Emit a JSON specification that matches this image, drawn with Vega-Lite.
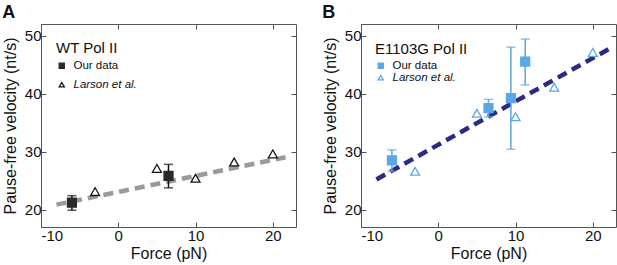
{
  "$schema": "https://vega.github.io/schema/vega-lite/v6.json",
  "padding": {"left": 1, "top": 3, "right": 2, "bottom": 2},
  "background": "white",
  "config": {
    "font": "Liberation Sans",
    "view": {"stroke": "#555", "strokeWidth": 1},
    "axis": {"grid": false, "domain": false, "tickSize": -5, "tickColor": "#555", "labelFontSize": 15, "labelColor": "#111", "titleFontSize": 16, "titleFontWeight": "normal", "titleColor": "#111", "labelPadding": 4},
    "title": {"fontSize": 18, "fontWeight": "bold", "anchor": "start", "baseline": "alphabetic", "offset": 2, "color": "#111"},
    "concat": {"spacing": 20},
    "legend": {"titleFontSize": 15, "titleFontWeight": "normal", "titleColor": "#111", "labelFontSize": 11.5, "labelColor": "#111", "padding": 0}
  },
  "datasets": {
    "a_fit": [{"force": -8, "v": 20.85}, {"force": 22.3, "v": 29.2}],
    "a_pts": [
      {"force": -6, "v": 21.2, "lo": 19.9, "hi": 22.4, "source": "Our data"},
      {"force": 6.5, "v": 25.8, "lo": 23.75, "hi": 27.8, "source": "Our data"},
      {"force": -3, "v": 23.1, "source": "Larson et al."},
      {"force": 5, "v": 27.1, "source": "Larson et al."},
      {"force": 10, "v": 25.4, "source": "Larson et al."},
      {"force": 15, "v": 28.2, "source": "Larson et al."},
      {"force": 20, "v": 29.6, "source": "Larson et al."}
    ],
    "b_fit": [{"force": -8, "v": 25.2}, {"force": 22.5, "v": 48.0}],
    "b_pts": [
      {"force": -6, "v": 28.5, "lo": 26.6, "hi": 30.3, "source": "Our data"},
      {"force": 6.5, "v": 37.5, "lo": 36.0, "hi": 39.0, "source": "Our data"},
      {"force": 9.4, "v": 39.2, "lo": 30.4, "hi": 48.0, "source": "Our data"},
      {"force": 11.25, "v": 45.5, "lo": 41.5, "hi": 49.4, "source": "Our data"},
      {"force": -3, "v": 26.6, "source": "Larson et al."},
      {"force": 5, "v": 36.6, "source": "Larson et al."},
      {"force": 10, "v": 36.0, "source": "Larson et al."},
      {"force": 15, "v": 41.1, "source": "Larson et al."},
      {"force": 20, "v": 47.1, "source": "Larson et al."}
    ]
  },
  "resolve": {"scale": {"shape": "independent", "fill": "independent", "stroke": "independent"}, "legend": {"shape": "independent", "fill": "independent", "stroke": "independent"}},
  "hconcat": [
    {
      "title": {"text": "A"},
      "width": 255,
      "height": 203,
      "resolve": {"axis": {"x": "independent", "y": "independent"}},
      "layer": [
        {
          "data": {"name": "a_fit"},
          "mark": {"type": "line", "color": "#9a9a9a", "strokeWidth": 4.5, "strokeDash": [10, 6]},
          "encoding": {
            "x": {"field": "force", "type": "quantitative", "scale": {"domain": [-10, 23], "nice": false, "zero": false}, "axis": {"values": [-10, 0, 10, 20], "labelExpr": "datum.value < 0 ? '-' + abs(datum.value) : '' + datum.value", "title": "Force (pN)", "titlePadding": 2, "labelPadding": 6}},
            "y": {"field": "v", "type": "quantitative", "scale": {"domain": [17, 52], "nice": false, "zero": false}, "axis": {"values": [20, 30, 40, 50], "title": "Pause-free velocity (nt/s)", "titlePadding": 6, "labelPadding": 5}}
          }
        },
        {
          "data": {"name": "a_fit"},
          "mark": {"type": "point", "opacity": 0},
          "encoding": {
            "x": {"field": "force", "type": "quantitative", "axis": {"orient": "top", "values": [-10, 0, 10, 20], "labels": false, "title": null}},
            "y": {"field": "v", "type": "quantitative", "axis": {"orient": "right", "values": [20, 30, 40, 50], "labels": false, "title": null}}
          }
        },
        {
          "data": {"name": "a_pts"},
          "transform": [{"filter": "datum.source == 'Our data'"}],
          "mark": {"type": "errorbar", "color": "#111", "thickness": 1.5, "ticks": {"size": 9, "thickness": 1.5}},
          "encoding": {
            "x": {"field": "force", "type": "quantitative", "axis": null},
            "y": {"field": "lo", "type": "quantitative", "axis": null},
            "y2": {"field": "hi"}
          }
        },
        {
          "data": {"name": "a_pts"},
          "mark": {"type": "point", "strokeWidth": 1.3, "opacity": 1, "size": 80},
          "encoding": {
            "x": {"field": "force", "type": "quantitative", "axis": null},
            "y": {"field": "v", "type": "quantitative", "axis": null},
            "shape": {"field": "source", "type": "nominal", "title": "WT Pol II", "scale": {"domain": ["Our data", "Larson et al."], "range": ["square", "triangle-up"]},
              "legend": {"orient": "none", "legendX": 15, "legendY": 17, "symbolSize": 26, "labelOffset": 6, "rowPadding": 6, "titlePadding": 4, "symbolStrokeWidth": 1.3,
                "labelFontStyle": {"expr": "datum.label == 'Larson et al.' ? 'italic' : 'normal'"}}},
            "fill": {"field": "source", "type": "nominal", "title": "WT Pol II", "scale": {"domain": ["Our data", "Larson et al."], "range": ["#2a2a2a", "white"]}},
            "stroke": {"field": "source", "type": "nominal", "title": "WT Pol II", "scale": {"domain": ["Our data", "Larson et al."], "range": ["#2a2a2a", "#111"]}}
          }
        }
      ]
    },
    {
      "title": {"text": "B"},
      "width": 255,
      "height": 203,
      "resolve": {"axis": {"x": "independent", "y": "independent"}},
      "layer": [
        {
          "data": {"name": "b_fit"},
          "mark": {"type": "line", "color": "#2b2b84", "strokeWidth": 4.5, "strokeDash": [10, 6]},
          "encoding": {
            "x": {"field": "force", "type": "quantitative", "scale": {"domain": [-10, 23], "nice": false, "zero": false}, "axis": {"values": [-10, 0, 10, 20], "labelExpr": "datum.value < 0 ? '-' + abs(datum.value) : '' + datum.value", "title": "Force (pN)", "titlePadding": 2, "labelPadding": 6}},
            "y": {"field": "v", "type": "quantitative", "scale": {"domain": [17, 52], "nice": false, "zero": false}, "axis": {"values": [20, 30, 40, 50], "title": "Pause-free velocity (nt/s)", "titlePadding": 6, "labelPadding": 5}}
          }
        },
        {
          "data": {"name": "b_fit"},
          "mark": {"type": "point", "opacity": 0},
          "encoding": {
            "x": {"field": "force", "type": "quantitative", "axis": {"orient": "top", "values": [-10, 0, 10, 20], "labels": false, "title": null}},
            "y": {"field": "v", "type": "quantitative", "axis": {"orient": "right", "values": [20, 30, 40, 50], "labels": false, "title": null}}
          }
        },
        {
          "data": {"name": "b_pts"},
          "transform": [{"filter": "datum.source == 'Our data'"}],
          "mark": {"type": "errorbar", "color": "#5aa8e8", "thickness": 1.5, "ticks": {"size": 9, "thickness": 1.5}},
          "encoding": {
            "x": {"field": "force", "type": "quantitative", "axis": null},
            "y": {"field": "lo", "type": "quantitative", "axis": null},
            "y2": {"field": "hi"}
          }
        },
        {
          "data": {"name": "b_pts"},
          "mark": {"type": "point", "strokeWidth": 1.3, "opacity": 1, "size": 80},
          "encoding": {
            "x": {"field": "force", "type": "quantitative", "axis": null},
            "y": {"field": "v", "type": "quantitative", "axis": null},
            "shape": {"field": "source", "type": "nominal", "title": "E1103G Pol II", "scale": {"domain": ["Our data", "Larson et al."], "range": ["square", "triangle-up"]},
              "legend": {"orient": "none", "legendX": 14, "legendY": 18, "symbolSize": 26, "labelOffset": 6, "rowPadding": -8, "titlePadding": 3, "symbolStrokeWidth": 1.3,
                "labelFontStyle": {"expr": "datum.label == 'Larson et al.' ? 'italic' : 'normal'"}}},
            "fill": {"field": "source", "type": "nominal", "title": "E1103G Pol II", "scale": {"domain": ["Our data", "Larson et al."], "range": ["#5aa8e8", "white"]}},
            "stroke": {"field": "source", "type": "nominal", "title": "E1103G Pol II", "scale": {"domain": ["Our data", "Larson et al."], "range": ["#5aa8e8", "#5aa8e8"]}}
          }
        }
      ]
    }
  ]
}
